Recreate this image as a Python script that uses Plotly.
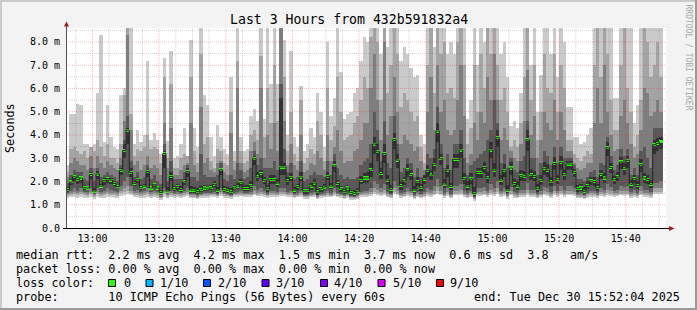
import plotly.graph_objects as go
import pandas as pd
import numpy as np

# ---------------- data (ms) ----------------
start = "2025-12-30 12:52:04"
end = "2025-12-30 15:52:04"
times = pd.date_range(start, periods=180, freq="min")

med = [1.65,1.98,2.2,2.08,2.15,1.73,1.72,2.3,1.59,2.32,1.8,2.03,2.12,2.06,1.92,1.78,2.48,3.33,4.21,2.38,1.92,2.08,1.73,1.8,2.43,1.72,1.86,1.72,1.53,3.2,
       1.59,2.22,1.69,1.78,1.66,1.98,2.42,1.63,1.63,1.56,1.65,1.72,1.68,1.73,1.88,1.63,2.5,1.65,1.62,1.56,1.73,1.8,1.95,1.7,1.7,1.82,2.98,2.2,2.34,2.05,
       1.69,2.08,2.08,1.93,2.62,2.62,2.03,2.18,1.63,1.78,2.19,1.6,1.6,1.8,1.93,1.55,1.69,1.76,2.22,1.8,2.67,1.91,1.69,1.56,1.72,1.53,1.49,1.58,2.05,2.15,
       2.15,2.5,3.61,3.28,2.34,3.2,2.06,1.66,3.8,2.92,1.82,2.03,2.5,2.29,1.63,1.99,1.73,2.1,2.48,2.28,2.74,4.17,2.98,1.89,2.49,1.79,2.95,2.95,3.35,2.12,
       1.8,2.12,1.48,2.39,2.39,2.6,2.16,3.35,2.48,3.89,2.06,2.48,1.63,2.58,1.91,1.8,2.25,2.22,3.79,2.29,2.22,1.69,2.05,2.57,2.48,1.98,2.77,2.08,2.82,2.29,
       2.75,2.75,2.39,1.69,1.72,1.58,1.82,2.03,2.0,1.73,2.31,2.15,3.45,2.6,2.08,2.2,2.84,2.57,2.91,1.88,2.12,1.82,2.72,2.15,2.09,1.88,3.58,3.64,3.71,None]

# smoke: sorted ping bands (outer = lightest)
hi1 = [2.7,4.9,4.9,5.35,5.3,3.6,3.6,3.5,3.6,5.8,8.3,3.7,5.3,3.9,3.5,3.4,5.7,6.0,9,9,3.6,4.2,3.7,4.0,7.2,3.8,4.1,3.8,3.2,7.3,
       3.75,7.6,3.0,3.1,3.6,4.3,3.1,8.1,4.3,3.5,9,5.7,5.3,3.9,3.1,4.45,3.9,3.4,3.2,6.5,3.3,9,3.9,3.3,3.4,4.8,5.1,4.6,9,4.7,
       9,6.2,9,6.2,9,8.1,4.0,7.6,3.9,3.5,6.1,3.3,3.6,4.3,3.9,5.8,5.0,3.5,8.0,4.8,5.6,9,6.7,4.7,4.9,5.0,5.8,6.0,7.2,8.2,
       8.0,9,9,9,7.5,9,7.8,9,9,9,7.2,7.8,7.5,6.9,6.5,6.6,4.0,3.6,9,9,7.8,9,9,9,7.5,8.0,7.5,9,9,9,
       4.7,5.5,9,7.0,9,8.0,9,9,9,9,7.5,8.0,6.5,4.4,4.6,4.3,5.8,9,9,7.0,9,5.0,6.6,9,9,7.5,9,6.5,9,8.0,
       5.2,5.2,3.9,3.9,3.6,3.7,4.0,4.3,9,9,9,9,9,9,5.6,5.6,9,9,9,9,4.5,5.3,9,9,9,9,9,9,9,None]
hi2 = [2.4,3.4,3.5,3.3,3.2,3.3,3.0,3.5,3.3,3.8,3.5,3.1,3.6,3.0,3.0,2.8,3.6,5.7,9,4.9,3.1,3.4,3.3,3.5,4.0,3.4,3.5,3.4,2.8,6.5,
       3.0,6.2,2.6,2.6,3.0,3.2,3.1,6.5,3.3,2.8,7.5,3.6,3.9,2.9,2.6,3.4,3.3,2.8,2.7,5.0,2.9,7.2,3.3,2.8,2.9,4.0,4.2,3.8,7.4,3.9,
       6.0,4.5,7.0,4.6,9,6.5,3.3,5.0,3.2,2.9,5.5,2.8,3.0,3.4,3.2,4.6,4.0,2.9,6.0,3.8,4.4,6.5,5.0,3.8,3.9,4.0,4.5,4.8,5.5,6.5,
       6.0,8.2,9,8.0,5.5,9,5.8,7.0,9,7.5,5.2,5.8,5.5,5.0,4.6,4.8,3.5,2.8,7.0,9,5.8,9,7.5,8.0,5.8,6.0,5.6,8.0,9,7.0,
       3.6,4.3,7.0,5.0,7.5,6.0,9,7.5,9,7.0,5.5,6.0,5.0,3.5,3.8,3.5,4.5,6.5,9,5.5,7.0,3.8,5.0,7.5,6.0,5.8,7.5,5.0,7.0,6.0,
       3.8,3.8,3.2,3.0,2.9,3.1,3.3,3.2,7.0,9,6.5,9,7.5,5.5,4.2,4.2,7.0,9,6.0,5.0,3.5,4.0,5.5,9,8.0,6.5,7.0,8.0,6.5,None]
hi3 = [2.2,2.8,3.0,2.9,2.7,2.7,2.5,3.1,2.6,3.1,2.8,2.6,2.9,2.7,2.6,2.5,3.0,4.6,8.3,4.2,2.7,2.9,2.5,2.7,3.1,2.6,2.7,2.6,2.3,4.5,
       2.6,4.3,2.3,2.3,2.5,2.7,2.8,4.5,2.7,2.4,5.2,2.8,3.0,2.5,2.4,2.8,2.9,2.4,2.3,4.1,2.5,6.0,2.8,2.4,2.5,3.3,3.7,3.2,6.0,3.0,
       4.0,3.4,4.5,3.3,9,4.6,2.7,3.6,2.7,2.5,4.0,2.4,2.5,2.8,2.7,3.3,3.0,2.5,4.0,2.9,3.5,4.2,3.3,2.8,2.9,2.9,3.3,3.4,3.8,4.5,
       4.5,6.0,7.5,5.5,3.8,8.0,4.0,4.8,6.5,5.0,3.6,4.0,3.8,3.6,3.3,3.5,2.9,2.5,5.0,6.5,4.2,7.0,5.0,5.5,4.2,4.0,4.2,5.5,7.0,4.8,
       2.8,3.2,4.5,3.8,5.0,4.5,6.5,5.5,7.5,5.5,3.8,4.3,3.8,3.3,3.0,2.9,3.6,4.6,6.8,4.0,4.8,3.0,3.8,5.0,4.5,4.2,5.5,3.8,5.0,4.2,
       3.3,3.3,2.8,2.6,2.5,2.6,2.8,2.8,4.5,6.0,4.5,7.0,5.0,4.0,3.3,3.4,4.8,5.5,4.5,3.6,3.0,3.2,4.2,6.0,5.8,4.8,5.0,5.5,5.0,None]
hi4 = [1.95,2.3,2.5,2.4,2.4,2.1,2.0,2.6,2.0,2.6,2.2,2.3,2.4,2.3,2.2,2.0,2.7,3.8,4.8,2.9,2.2,2.4,2.1,2.2,2.7,2.1,2.3,2.0,1.9,3.6,
       2.0,2.9,2.1,2.1,2.1,2.4,2.7,2.2,2.2,2.0,3.2,2.3,2.2,2.2,2.2,2.3,2.8,2.1,2.0,2.3,2.1,2.8,2.5,2.1,2.2,2.6,3.3,2.7,3.0,2.6,
       2.6,2.6,2.9,2.5,6.2,3.4,2.4,2.8,2.1,2.2,2.9,2.0,2.1,2.3,2.4,2.3,2.3,2.2,2.9,2.3,3.2,2.6,2.3,2.1,2.2,2.1,2.1,2.2,2.7,2.9,
       3.0,3.6,5.0,4.2,2.9,4.6,2.8,2.6,4.8,3.6,2.4,2.6,3.0,2.8,2.2,2.6,2.2,2.3,3.2,3.0,3.4,5.2,3.6,2.6,3.2,2.5,3.6,3.6,4.2,3.0,
       2.3,2.7,2.9,3.0,3.2,3.3,3.8,4.2,5.5,4.5,2.8,3.2,2.6,3.0,2.5,2.4,2.9,3.1,4.6,3.0,3.0,2.3,2.8,3.3,3.1,2.7,3.5,2.8,3.5,3.0,
       3.0,3.0,2.7,2.1,2.1,2.0,2.2,2.4,2.5,2.2,2.8,2.7,3.9,3.1,2.5,2.7,3.4,3.1,3.4,2.3,2.6,2.3,3.3,3.5,3.0,2.6,4.3,4.3,4.3,None]
hi5 = [1.75,2.1,2.3,2.2,2.25,1.85,1.8,2.4,1.7,2.45,1.9,2.15,2.2,2.15,2.0,1.85,2.6,3.6,4.3,2.6,2.0,2.2,1.85,1.9,2.55,1.8,1.95,1.8,1.65,3.3,
       1.75,2.4,1.8,1.9,1.8,2.1,2.6,1.8,1.75,1.7,1.8,1.85,1.8,1.85,2.0,1.75,2.6,1.8,1.75,1.7,1.85,1.95,2.1,1.85,1.85,2.0,3.1,2.4,2.5,2.2,
       1.85,2.3,2.3,2.1,5.6,2.8,2.2,2.35,1.75,1.9,2.4,1.72,1.72,1.95,2.1,1.68,1.8,1.9,2.4,1.95,2.9,2.05,1.8,1.68,1.85,1.65,1.62,1.7,2.25,2.35,
       2.4,2.8,3.9,3.6,2.6,3.6,2.3,1.85,4.1,3.2,2.0,2.2,2.75,2.5,1.8,2.2,1.9,2.3,2.7,2.5,3.0,4.5,3.2,2.1,2.7,1.95,3.2,3.2,3.6,2.35,
       2.0,2.35,1.75,2.6,2.6,2.85,2.4,3.7,2.8,4.2,2.3,2.75,1.85,2.85,2.1,2.0,2.5,2.45,4.2,2.55,2.45,1.9,2.3,2.85,2.75,2.2,3.05,2.3,3.1,2.55,
       2.9,2.9,2.55,1.85,1.9,1.75,2.0,2.2,2.2,1.9,2.5,2.35,3.7,2.8,2.25,2.4,3.05,2.8,3.1,2.05,2.3,2.0,2.95,2.35,2.3,2.05,3.8,3.85,3.9,None]
lo5 = [1.55,1.85,2.0,1.9,1.95,1.65,1.65,2.1,1.5,2.1,1.7,1.85,1.95,1.9,1.8,1.7,2.3,3.0,3.6,2.2,1.8,1.95,1.65,1.7,2.2,1.65,1.75,1.65,1.45,2.6,
       1.5,2.0,1.6,1.65,1.55,1.85,2.2,1.5,1.5,1.45,1.55,1.6,1.58,1.62,1.75,1.52,2.3,1.55,1.52,1.47,1.62,1.68,1.82,1.6,1.6,1.7,2.7,2.0,2.15,1.9,
       1.55,1.9,1.9,1.78,2.3,2.3,1.85,2.0,1.5,1.65,2.0,1.48,1.48,1.65,1.78,1.43,1.56,1.63,2.05,1.66,2.4,1.76,1.56,1.45,1.6,1.42,1.38,1.46,1.88,1.95,
       1.95,2.2,3.2,2.9,2.1,2.8,1.85,1.52,3.4,2.6,1.65,1.85,2.2,2.05,1.5,1.8,1.58,1.9,2.2,2.05,2.45,3.7,2.7,1.7,2.2,1.62,2.6,2.6,3.0,1.9,
       1.65,1.9,1.38,2.15,2.15,2.35,1.95,3.0,2.2,3.5,1.85,2.2,1.5,2.3,1.75,1.65,2.0,2.0,3.3,2.05,2.0,1.56,1.85,2.3,2.2,1.8,2.5,1.88,2.5,2.05,
       2.5,2.5,2.2,1.55,1.58,1.46,1.68,1.85,1.82,1.6,2.1,1.95,3.1,2.35,1.9,2.0,2.55,2.3,2.6,1.72,1.92,1.68,2.4,1.95,1.9,1.72,3.2,3.3,3.4,None]
lo4 = [1.5,1.6,1.7,1.6,1.7,1.55,1.55,1.7,1.45,1.7,1.55,1.6,1.7,1.65,1.6,1.55,1.8,2.0,2.2,1.8,1.6,1.65,1.55,1.6,1.7,1.55,1.6,1.55,1.4,1.7,
       1.45,1.6,1.5,1.55,1.5,1.6,1.7,1.45,1.45,1.4,1.48,1.5,1.5,1.52,1.55,1.47,1.7,1.5,1.48,1.42,1.52,1.55,1.6,1.52,1.52,1.55,1.8,1.65,1.7,1.6,
       1.48,1.6,1.6,1.55,1.7,1.7,1.55,1.6,1.45,1.5,1.6,1.42,1.42,1.5,1.55,1.4,1.48,1.5,1.6,1.5,1.7,1.52,1.48,1.4,1.48,1.38,1.35,1.4,1.55,1.6,
       1.6,1.7,2.0,1.9,1.7,1.9,1.55,1.45,2.0,1.8,1.5,1.55,1.7,1.6,1.42,1.55,1.45,1.55,1.7,1.65,1.8,2.1,1.8,1.5,1.7,1.48,1.8,1.8,1.9,1.6,
       1.5,1.6,1.32,1.7,1.7,1.75,1.6,1.9,1.7,2.0,1.6,1.7,1.45,1.75,1.55,1.5,1.62,1.62,1.95,1.62,1.62,1.48,1.58,1.75,1.7,1.55,1.8,1.6,1.8,1.62,
       1.8,1.8,1.7,1.48,1.5,1.42,1.52,1.6,1.6,1.5,1.7,1.65,1.9,1.75,1.6,1.65,1.8,1.75,1.8,1.55,1.62,1.52,1.8,1.65,1.62,1.55,1.95,1.95,2.0,None]
lo3 = [1.45,1.5,1.55,1.5,1.55,1.5,1.45,1.55,1.4,1.55,1.45,1.5,1.55,1.5,1.5,1.45,1.6,1.7,1.8,1.6,1.5,1.5,1.45,1.5,1.55,1.45,1.5,1.45,1.35,1.55,
       1.4,1.5,1.45,1.48,1.45,1.5,1.55,1.4,1.4,1.35,1.42,1.45,1.45,1.46,1.48,1.42,1.55,1.45,1.43,1.38,1.46,1.48,1.5,1.46,1.46,1.48,1.6,1.52,1.55,1.5,
       1.42,1.5,1.5,1.48,1.55,1.55,1.48,1.5,1.4,1.44,1.5,1.38,1.38,1.44,1.48,1.35,1.42,1.44,1.5,1.44,1.55,1.45,1.42,1.36,1.42,1.34,1.32,1.36,1.48,1.5,
       1.5,1.55,1.7,1.65,1.55,1.65,1.45,1.4,1.7,1.6,1.42,1.45,1.55,1.5,1.36,1.45,1.4,1.45,1.55,1.5,1.6,1.75,1.6,1.42,1.55,1.4,1.6,1.6,1.65,1.48,
       1.42,1.5,1.28,1.55,1.55,1.6,1.5,1.65,1.55,1.7,1.5,1.55,1.38,1.6,1.45,1.42,1.5,1.5,1.65,1.5,1.5,1.4,1.48,1.6,1.55,1.45,1.6,1.5,1.6,1.5,
       1.6,1.6,1.55,1.4,1.42,1.36,1.45,1.5,1.5,1.42,1.55,1.52,1.65,1.58,1.5,1.52,1.6,1.58,1.6,1.45,1.5,1.44,1.6,1.52,1.5,1.45,1.7,1.7,1.72,None]
lo2 = [1.38,1.42,1.45,1.4,1.45,1.4,1.38,1.45,1.33,1.45,1.38,1.4,1.45,1.42,1.4,1.38,1.5,1.55,1.6,1.5,1.42,1.42,1.38,1.4,1.45,1.38,1.42,1.38,1.3,1.45,
       1.35,1.42,1.38,1.4,1.38,1.42,1.45,1.35,1.35,1.3,1.36,1.38,1.38,1.4,1.42,1.36,1.45,1.38,1.37,1.32,1.4,1.42,1.43,1.4,1.4,1.42,1.48,1.44,1.46,1.42,
       1.36,1.42,1.42,1.4,1.45,1.45,1.4,1.42,1.34,1.38,1.42,1.32,1.32,1.38,1.4,1.3,1.36,1.38,1.42,1.38,1.45,1.38,1.36,1.3,1.36,1.28,1.27,1.3,1.4,1.42,
       1.42,1.45,1.55,1.5,1.45,1.5,1.38,1.34,1.55,1.48,1.36,1.38,1.45,1.42,1.3,1.38,1.34,1.38,1.45,1.42,1.48,1.58,1.48,1.36,1.45,1.34,1.48,1.48,1.5,1.4,
       1.35,1.42,1.24,1.45,1.45,1.48,1.42,1.5,1.45,1.55,1.42,1.45,1.32,1.48,1.38,1.35,1.42,1.42,1.52,1.42,1.42,1.33,1.4,1.48,1.45,1.38,1.5,1.42,1.5,1.42,
       1.48,1.48,1.45,1.34,1.35,1.3,1.38,1.42,1.42,1.36,1.45,1.43,1.52,1.47,1.42,1.44,1.48,1.47,1.48,1.38,1.42,1.37,1.48,1.43,1.42,1.38,1.55,1.55,1.56,None]
lo1 = [1.3,1.33,1.35,1.3,1.35,1.3,1.28,1.35,1.25,1.35,1.3,1.3,1.35,1.32,1.3,1.28,1.38,1.42,1.45,1.4,1.33,1.33,1.3,1.3,1.35,1.3,1.33,1.3,1.22,1.35,
       1.28,1.35,1.3,1.33,1.3,1.35,1.38,1.28,1.28,1.24,1.29,1.31,1.3,1.33,1.35,1.29,1.38,1.3,1.3,1.25,1.33,1.35,1.36,1.33,1.33,1.35,1.4,1.37,1.38,1.35,
       1.3,1.35,1.35,1.33,1.38,1.38,1.33,1.35,1.28,1.32,1.35,1.26,1.26,1.32,1.33,1.24,1.3,1.32,1.35,1.32,1.38,1.32,1.3,1.24,1.3,1.22,1.2,1.24,1.33,1.35,
       1.35,1.37,1.45,1.42,1.37,1.42,1.32,1.28,1.45,1.4,1.3,1.32,1.37,1.35,1.25,1.32,1.28,1.32,1.37,1.35,1.4,1.48,1.4,1.3,1.37,1.28,1.4,1.4,1.42,1.33,
       1.28,1.33,1.18,1.37,1.37,1.4,1.33,1.42,1.37,1.45,1.33,1.37,1.26,1.4,1.3,1.28,1.33,1.33,1.43,1.35,1.33,1.27,1.32,1.4,1.37,1.3,1.4,1.33,1.4,1.35,
       1.4,1.4,1.37,1.27,1.28,1.24,1.3,1.34,1.34,1.28,1.37,1.35,1.42,1.38,1.34,1.36,1.4,1.38,1.4,1.3,1.34,1.3,1.4,1.35,1.34,1.3,1.45,1.45,1.46,None]

y_tickvals = [0, 1, 2, 3, 4, 5, 6, 7, 8]
y_ticktext = ["0.0", "1.0 m", "2.0 m", "3.0 m", "4.0 m", "5.0 m", "6.0 m", "7.0 m", "8.0 m"]
x_ticks = ["13:00", "13:20", "13:40", "14:00", "14:20", "14:40", "15:00", "15:20", "15:40"]
title_text = "Last 3 Hours from 432b591832a4"
legend_lines = [
    "median rtt:  2.2 ms avg  4.2 ms max  1.5 ms min  3.7 ms now  0.6 ms sd  3.8   am/s",
    "packet loss: 0.00 % avg  0.00 % max  0.00 % min  0.00 % now",
]
loss_labels = ["0", "1/10", "2/10", "3/10", "4/10", "5/10", "9/10"]
loss_colors = ["#26ff00", "#00b8ff", "#0059ff", "#5e00ff", "#7e00ff", "#dd00ff", "#ff0000"]
probe_text = "probe:       10 ICMP Echo Pings (56 Bytes) every 60s"
end_text = "end: Tue Dec 30 15:52:04 2025"

# ---------------- geometry helpers ----------------
W, H = 697, 310
L, R, T, B = 66, 31, 28, 82
PW, PH = W - L - R, H - T - B
def fx(px): return (px - L) / PW
def fy(py): return (T + PH - py) / PH
MONO = "DejaVu Sans Mono"
def nb(s): return s.replace(" ", "\u00a0")

fig = go.Figure()

def arr(a): return np.array([np.nan if v is None else v for v in a], dtype=float)

layers = [(lo1, hi1, "#cacaca"), (lo2, hi2, "#a4a4a4"), (lo3, hi3, "#7e7e7e"),
          (lo4, hi4, "#585858"), (lo5, hi5, "#323232")]
for lo, hi, col in layers:
    lo_a, hi_a = arr(lo), arr(hi)
    fig.add_trace(go.Bar(x=times, base=lo_a, y=hi_a - lo_a, width=60500, offset=0,
                         marker=dict(color=col, line=dict(width=0)), hoverinfo="skip"))

med_a = arr(med)
fig.add_trace(go.Scatter(x=times, y=med_a, mode="lines", line=dict(color="#202020", width=1, shape="hv"),
                         connectgaps=False, hoverinfo="skip"))
fig.add_trace(go.Bar(x=times, base=med_a - 0.065, y=np.where(np.isnan(med_a), np.nan, 0.13),
                     width=60000, offset=0, marker=dict(color=loss_colors[0], line=dict(width=0)),
                     hoverinfo="skip"))

shapes = []
# grid (drawn above the smoke, like rrdtool)
minor_col = "rgba(120,120,120,0.32)"
major_col = "rgba(235,40,40,0.32)"
grid_t = pd.date_range("2025-12-30 12:55", "2025-12-30 15:50", freq="5min")
for t in grid_t:
    major = (t.minute % 20 == 0)
    shapes.append(dict(type="line", xref="x", yref="paper", x0=t, x1=t, y0=0, y1=1, layer="above",
                       line=dict(color=major_col if major else minor_col, width=1, dash="1px,1px")))
for k in range(1, 18):
    v = k * 0.5
    major = (k % 2 == 0)
    shapes.append(dict(type="line", xref="paper", yref="y", x0=0, x1=1, y0=v, y1=v, layer="above",
                       line=dict(color=major_col if major else minor_col, width=1, dash="1px,1px")))
# axes with arrows
shapes.append(dict(type="line", xref="paper", yref="paper", x0=fx(66.5), x1=fx(66.5), y0=fy(228.5), y1=fy(24),
                   line=dict(color="#505050", width=1), layer="above"))
shapes.append(dict(type="line", xref="paper", yref="paper", x0=fx(63), x1=fx(671), y0=fy(228.5), y1=fy(228.5),
                   line=dict(color="#000000", width=1), layer="above"))
shapes.append(dict(type="path", xref="paper", yref="paper", layer="above",
                   path=f"M {fx(66.5)} {fy(21.5)} L {fx(64)} {fy(26.5)} L {fx(69)} {fy(26.5)} Z",
                   fillcolor="#a81818", line=dict(width=0)))
shapes.append(dict(type="path", xref="paper", yref="paper", layer="above",
                   path=f"M {fx(674.5)} {fy(228.5)} L {fx(669)} {fy(226)} L {fx(669)} {fy(231)} Z",
                   fillcolor="#a81818", line=dict(width=0)))
# frame
shapes.append(dict(type="line", xref="paper", yref="paper", x0=fx(0), x1=fx(697), y0=fy(1), y1=fy(1),
                   line=dict(color="#cbcbcb", width=2)))
shapes.append(dict(type="line", xref="paper", yref="paper", x0=fx(1), x1=fx(1), y0=fy(0), y1=fy(310),
                   line=dict(color="#cbcbcb", width=2)))
shapes.append(dict(type="line", xref="paper", yref="paper", x0=fx(0), x1=fx(697), y0=fy(309), y1=fy(309),
                   line=dict(color="#999999", width=2)))
shapes.append(dict(type="line", xref="paper", yref="paper", x0=fx(696), x1=fx(696), y0=fy(0), y1=fy(310),
                   line=dict(color="#999999", width=2)))
# loss colour boxes
box_x = [108.5, 146, 203.5, 262, 320.5, 378, 436.5]
text_x = [122.5, 159.3, 217.3, 275.3, 333.3, 391.6, 449.3]
for bx, col in zip(box_x, loss_colors):
    shapes.append(dict(type="rect", xref="paper", yref="paper", x0=fx(bx), x1=fx(bx + 7), y0=fy(279.5), y1=fy(286.5),
                       fillcolor=col, line=dict(color="#000000", width=1)))

ann = []
LF = 11.8
ann.append(dict(text=title_text, x=fx(348.5), y=fy(19.5), xanchor="center", yanchor="middle",
                font=dict(family=MONO, size=13.2, color="#000")))
ann.append(dict(text="Seconds", x=fx(10), y=fy(128), textangle=-90, xanchor="center", yanchor="middle",
                font=dict(family=MONO, size=11.8, color="#000")))
ann.append(dict(text=nb("RRDTOOL / TOBI OETIKER"), x=fx(688.5), y=fy(57), textangle=90, xanchor="center",
                yanchor="middle", font=dict(family=MONO, size=8, color="#a8a8a8")))
for i, line in enumerate(legend_lines):
    ann.append(dict(text=nb(line), x=fx(15), y=fy(254.5 + 14 * i), xanchor="left", yanchor="middle",
                    font=dict(family=MONO, size=LF, color="#000")))
ann.append(dict(text=nb("loss color:"), x=fx(15), y=fy(282.5), xanchor="left", yanchor="middle",
                font=dict(family=MONO, size=LF, color="#000")))
for tx, lab in zip(text_x, loss_labels):
    ann.append(dict(text=lab, x=fx(tx), y=fy(282.5), xanchor="left", yanchor="middle",
                    font=dict(family=MONO, size=LF, color="#000")))
ann.append(dict(text=nb(probe_text), x=fx(15), y=fy(296.5), xanchor="left", yanchor="middle",
                font=dict(family=MONO, size=LF, color="#000")))
ann.append(dict(text=nb(end_text), x=fx(681), y=fy(296.5), xanchor="right", yanchor="middle",
                font=dict(family=MONO, size=LF, color="#000")))
for a in ann:
    a.update(xref="paper", yref="paper", showarrow=False, borderpad=0)

x_tickvals = [pd.Timestamp("2025-12-30 " + s) for s in x_ticks]
fig.update_layout(
    width=W, height=H, margin=dict(l=L, r=R, t=T, b=B, pad=0),
    paper_bgcolor="#f3f3f3", plot_bgcolor="#ffffff",
    barmode="overlay", bargap=0, showlegend=False,
    shapes=shapes, annotations=ann,
    xaxis=dict(type="date", range=[start, end], tickvals=x_tickvals, ticktext=x_ticks,
               showgrid=False, zeroline=False, showline=False, ticks="", ticklabelstandoff=3,
               tickfont=dict(family=MONO, size=10, color="#000")),
    yaxis=dict(range=[0, 8.6], tickvals=y_tickvals, ticktext=y_ticktext, showgrid=False, zeroline=False,
               showline=False, ticks="", ticklabelstandoff=5,
               tickfont=dict(family=MONO, size=10, color="#000")),
)
fig.write_html("out.html")
